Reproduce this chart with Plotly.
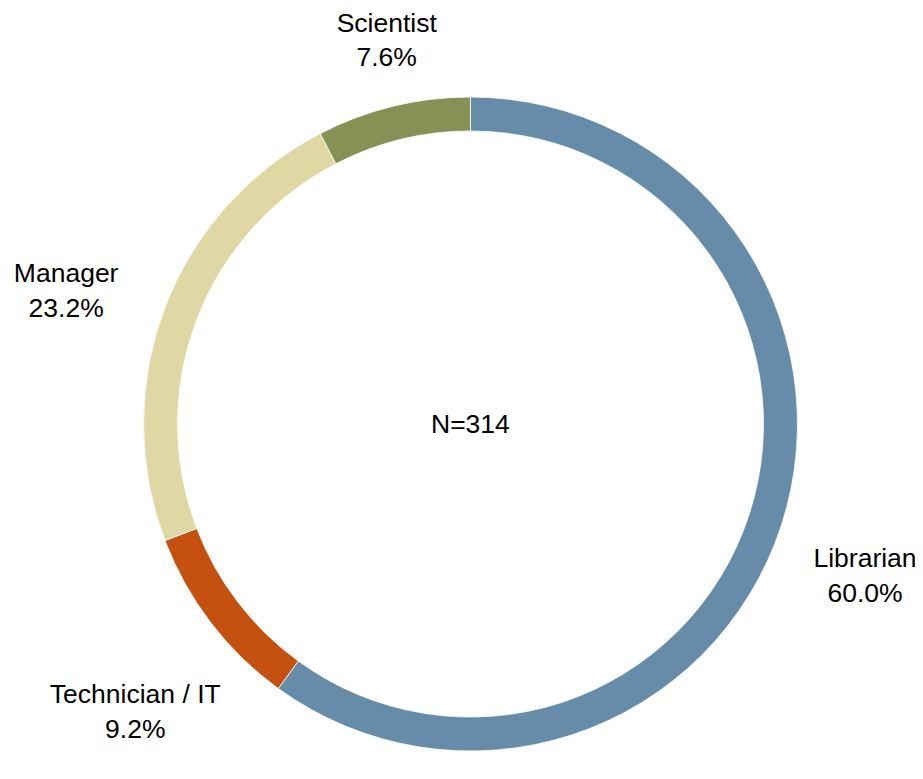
import math
import plotly.graph_objects as go

# 职业分布
categories = ["Librarian", "Technician / IT", "Manager", "Scientist"]
shares = [60.0, 9.2, 23.2, 7.6]
colors = ["#668CA9", "#C4510F", "#E0D8A4", "#869255"]
total_n = 314

# 标签位置：离圆心的距离（圆环外半径为 1）和相对扇区中线的角度微调（度）
label_radius = {"Librarian": 1.295, "Technician / IT": 1.355, "Manager": 1.30, "Scientist": 1.195}
label_angle_shift = {"Librarian": 3.3, "Technician / IT": -3.4, "Manager": -2.9, "Scientist": 1.3}

label_font = dict(family='Liberation Sans, Arial', size=26.5, color='black')

# 画布尺寸、圆心位置和半径（像素）
W, H = 923, 779
CX, CY = 462.5, 416   # 圆心，CY 从上往下算
R = 327

# 每个扇区的中间角度（顺时针，从12点开始）
total = sum(shares)
mid_angles = []
acc = 0
for s in shares:
    mid_angles.append(360 * (acc + s / 2) / total)
    acc += s

label_angles = [a + label_angle_shift[c] for c, a in zip(categories, mid_angles)]
label_x = [label_radius[c] * math.sin(math.radians(a)) for c, a in zip(categories, label_angles)]
label_y = [label_radius[c] * math.cos(math.radians(a)) for c, a in zip(categories, label_angles)]
label_texts = [f"{c}<br>{s / total * 100:.1f}%" for c, s in zip(categories, shares)]

fig = go.Figure()

# 环形图
fig.add_trace(go.Pie(
    labels=categories,
    values=shares,
    hole=0.896,
    sort=False,
    direction='clockwise',
    rotation=0,
    domain=dict(x=[(CX - R) / W, (CX + R) / W],
                y=[(H - CY - R) / H, (H - CY + R) / H]),
    marker=dict(colors=colors, line=dict(color='white', width=0.8)),
    textinfo='none',
    hovertemplate='<b>%{label}</b><br>%{percent:.1%}<extra></extra>',
    showlegend=False
))

# 外部标签
fig.add_trace(go.Scatter(
    x=label_x,
    y=label_y,
    mode='text',
    text=label_texts,
    textposition='middle center',
    textfont=label_font,
    hoverinfo='skip',
    showlegend=False
))

fig.add_annotation(
    text=f"N={total_n}",
    x=0, y=0,
    showarrow=False,
    font=label_font
)

fig.update_layout(
    width=W,
    height=H,
    margin=dict(l=0, r=0, t=0, b=0),
    paper_bgcolor='white',
    plot_bgcolor='rgba(0,0,0,0)',
    xaxis=dict(visible=False, range=[-CX / R, (W - CX) / R], fixedrange=True),
    yaxis=dict(visible=False, range=[-(H - CY) / R, CY / R], fixedrange=True)
)

fig.write_html("out.html")
